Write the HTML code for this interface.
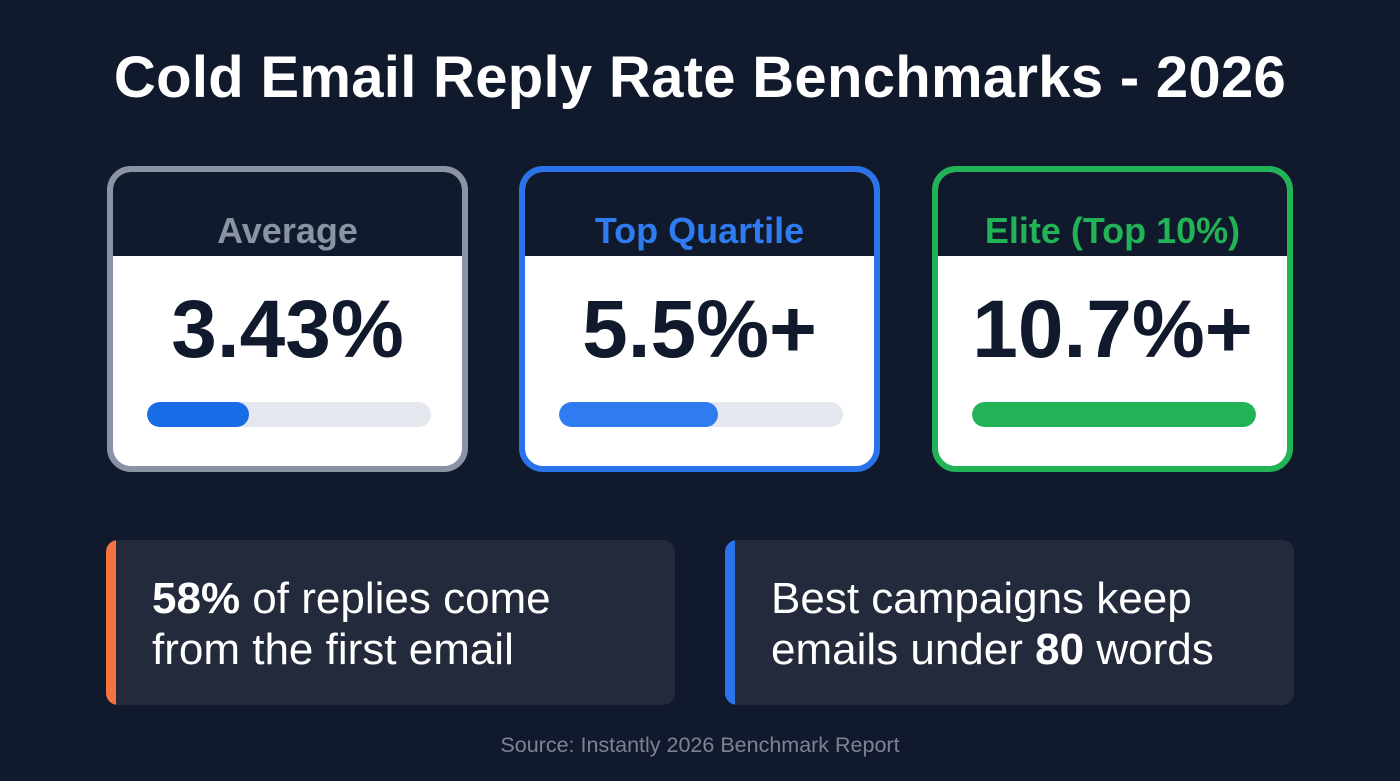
<!DOCTYPE html>
<html><head><style>
body{margin:0;width:1400px;height:781px;background:#111a2c;font-family:"Liberation Sans",sans-serif;position:relative;overflow:hidden}
.t{position:absolute;top:44px;left:0;width:1400px;text-align:center;color:#fff;font-weight:bold;font-size:58px;letter-spacing:0.3px}
.card{position:absolute;top:166px;width:349px;height:294px;border:6px solid;border-radius:24px;background:#fff;overflow:hidden}
.hd{height:84px;background:#111a2c;text-align:center;line-height:118px;font-weight:bold;font-size:36px}
.num{text-align:center;font-weight:bold;font-size:82px;color:#111a2c;margin-top:29px;line-height:90px}
.bar{position:absolute;left:34px;top:230px;width:284px;height:25px;border-radius:13px;background:#e4e7ee;overflow:hidden}
.bar i{display:block;height:100%;border-radius:13px}
.box{position:absolute;top:540px;width:569px;height:165px;background:#232a3b;border-radius:12px;overflow:hidden;color:#fff;font-size:44px;line-height:51px}
.box .s{position:absolute;left:0;top:0;bottom:0;width:10px}
.box p{margin:0;position:absolute;left:46px;top:33px;white-space:nowrap}
.src{position:absolute;top:733px;left:0;width:1400px;text-align:center;color:#7c8394;font-size:21.5px}
</style></head><body>
<div class="t">Cold Email Reply Rate Benchmarks - 2026</div>
<div class="card" style="left:107px;border-color:#8a93a3"><div class="hd" style="color:#8a93a3">Average</div><div class="num">3.43%</div><div class="bar"><i style="width:102px;background:#1a6ce6"></i></div></div>
<div class="card" style="left:519px;border-color:#2a73ea"><div class="hd" style="color:#2f7cf0">Top Quartile</div><div class="num">5.5%+</div><div class="bar"><i style="width:159px;background:#2f7cf0"></i></div></div>
<div class="card" style="left:932px;border-color:#22b357"><div class="hd" style="color:#22b357">Elite (Top 10%)</div><div class="num">10.7%+</div><div class="bar"><i style="width:284px;background:#22b357"></i></div></div>
<div class="box" style="left:106px"><div class="s" style="background:#f57341"></div><p><b>58%</b> of replies come<br>from the first email</p></div>
<div class="box" style="left:725px"><div class="s" style="background:#2a73ea"></div><p>Best campaigns keep<br>emails under <b>80</b> words</p></div>
<div class="src">Source: Instantly 2026 Benchmark Report</div>
</body></html>
